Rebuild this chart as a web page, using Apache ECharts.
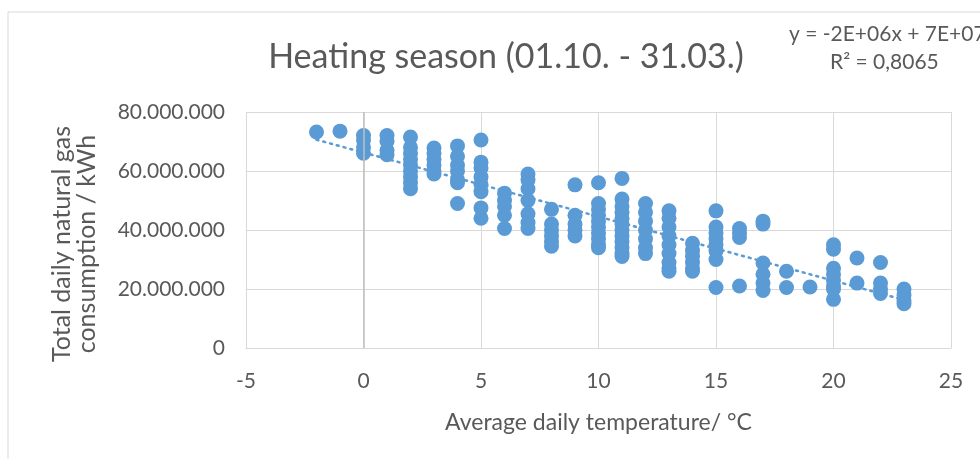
<!DOCTYPE html>
<html>
<head>
<meta charset="utf-8">
<script src="https://cdn.jsdelivr.net/npm/echarts@6/dist/echarts.min.js"></script>
<style>
  html, body { margin: 0; padding: 0; background: #fff; }
  #main { width: 980px; height: 459px; }
</style>
</head>
<body>
<div id="main"></div>
<script>
// average daily temperature (°C) and consumption (million kWh)
const temps = [
  -2,
  -1,
  0, 0, 0, 0,
  1, 1, 1, 1,
  2, 2, 2, 2, 2, 2, 2, 2, 2,
  3, 3, 3, 3, 3, 3,
  4, 4, 4, 4, 4, 4, 4,
  5, 5, 5, 5, 5, 5, 5, 5,
  6, 6, 6, 6, 6,
  7, 7, 7, 7, 7, 7, 7,
  8, 8, 8, 8, 8, 8,
  9, 9, 9, 9, 9,
  10, 10, 10, 10, 10, 10, 10, 10, 10, 10,
  11, 11, 11, 11, 11, 11, 11, 11, 11, 11, 11, 11,
  12, 12, 12, 12, 12, 12, 12,
  13, 13, 13, 13, 13, 13, 13, 13, 13,
  14, 14, 14, 14, 14, 14,
  15, 15, 15, 15, 15, 15, 15, 15,
  16, 16, 16, 16,
  17, 17, 17, 17, 17, 17,
  18, 18,
  19,
  20, 20, 20, 20, 20, 20, 20, 20,
  21, 21,
  22, 22, 22, 22,
  23, 23, 23, 23
];
const consumption = [
  73.2,
  73.5,
  72, 70.5, 68, 66,
  72, 70, 67, 65.5,
  71.5, 68, 66, 64, 62, 60, 58, 56, 54,
  67.8, 66, 64, 62, 60, 59,
  68.5, 65, 62, 60, 57, 56, 49,
  70.5, 63, 61, 58, 55.5, 53, 47.5, 44,
  52.5, 50, 48, 45, 40.5,
  59, 57, 54, 50, 45.5, 42.5, 40.5,
  47, 42, 40, 38, 36, 34.5,
  55.3, 45, 42, 40, 38,
  56, 49, 47, 45, 43, 41, 39, 37, 35, 34,
  57.5, 50.5, 48, 46, 44, 42, 40, 38, 36, 34, 32, 31,
  49, 46, 43, 40, 37, 34, 32,
  46.5, 44, 41, 38, 35, 32, 29, 27, 26,
  35.5, 33, 31, 29, 27, 26,
  46.5, 41, 39, 37, 35, 33, 30, 20.5,
  40.5, 39, 37.5, 21,
  43, 42, 28.8, 25, 22, 19.5,
  26, 20.5,
  20.7,
  35, 33.5, 27, 25, 23, 21, 20, 16.5,
  30.5, 22,
  29, 22, 20, 18.5,
  20, 18, 16, 15
];
// linear trend line end points (Excel trendline)
const trendX = [-2, 23];
const trendY = [70.6, 16.3];

const xTicks = [-5, 0, 5, 10, 15, 20, 25];
const yTicks = [0, 20, 40, 60, 80];

const eqText = 'y = -2E+06x + 7E+07';
const r2Text = 'R² = 0,8065';

function fmtKwh(v) {
  if (v === 0) return '0';
  return String(Math.round(v * 1e6)).replace(/\B(?=(\d{3})+(?!\d))/g, '.');
}

let dom = document.getElementById('main');
let myChart = echarts.init(dom, null, {renderer: 'canvas'});

const points = temps.map((t, i) => [t, consumption[i]]);
const trend = trendX.map((t, i) => [t, trendY[i]]);
const txt = '#595959';
const font = 'Lato';

const option = {
  animation: false,
  title: {
    text: 'Heating season (01.10. - 31.03.)',
    left: 501,
    textAlign: 'center',
    top: 35,
    textStyle: {color: txt, fontFamily: font, fontSize: 34, fontWeight: 'normal'}
  },
  graphic: [
    {type: 'rect', shape: {x: 8, y: 12, width: 1000, height: 500},
      style: {fill: 'none', stroke: '#d9d9d9', lineWidth: 1}, silent: true},
    {type: 'text', left: 789, top: 24,
      style: {text: eqText, fill: txt, font: '21px ' + font}},
    {type: 'text', left: 830, top: 52,
      style: {text: r2Text, fill: txt, font: '21px ' + font}},
    // y axis title, rotated
    {type: 'text', x: 74, y: 244, rotation: Math.PI / 2, silent: true,
      style: {text: 'Total daily natural gas\nconsumption / kWh', fill: txt,
        font: '25px ' + font, lineHeight: 25, align: 'center', verticalAlign: 'middle'}}
  ],
  grid: {left: 246, right: 29, top: 112, bottom: 111},
  xAxis: {
    type: 'value',
    min: xTicks[0],
    max: xTicks[xTicks.length - 1],
    interval: 5,
    name: 'Average daily temperature/ °C',
    nameLocation: 'middle',
    nameGap: 63,
    nameTextStyle: {color: txt, fontFamily: font, fontSize: 23},
    axisLine: {onZero: false, lineStyle: {color: '#d9d9d9', width: 1}},
    axisTick: {show: false},
    axisLabel: {color: txt, fontFamily: font, fontSize: 21, margin: 23},
    splitLine: {show: true, lineStyle: {color: '#d9d9d9', width: 1}}
  },
  yAxis: {
    type: 'value',
    min: yTicks[0],
    max: yTicks[yTicks.length - 1],
    interval: 20,
    axisLine: {show: false},
    axisTick: {show: false},
    axisLabel: {color: txt, fontFamily: font, fontSize: 21, margin: 21, formatter: fmtKwh},
    splitLine: {show: true, lineStyle: {color: '#d9d9d9', width: 1}}
  },
  series: [
    {
      type: 'scatter',
      data: points,
      symbol: 'circle',
      symbolSize: 15,
      itemStyle: {color: '#5b9bd5', opacity: 1},
      markLine: {
        silent: true,
        symbol: 'none',
        label: {show: false},
        lineStyle: {color: '#bfbfbf', width: 1.5, type: 'solid'},
        data: [{xAxis: 0}]
      },
      z: 3
    },
    {
      type: 'line',
      data: trend,
      symbol: 'none',
      lineStyle: {color: '#5b9bd5', width: 2.5, type: [2, 5], cap: 'round'},
      z: 4
    }
  ]
};
myChart.setOption(option, true);
</script>
</body>
</html>
